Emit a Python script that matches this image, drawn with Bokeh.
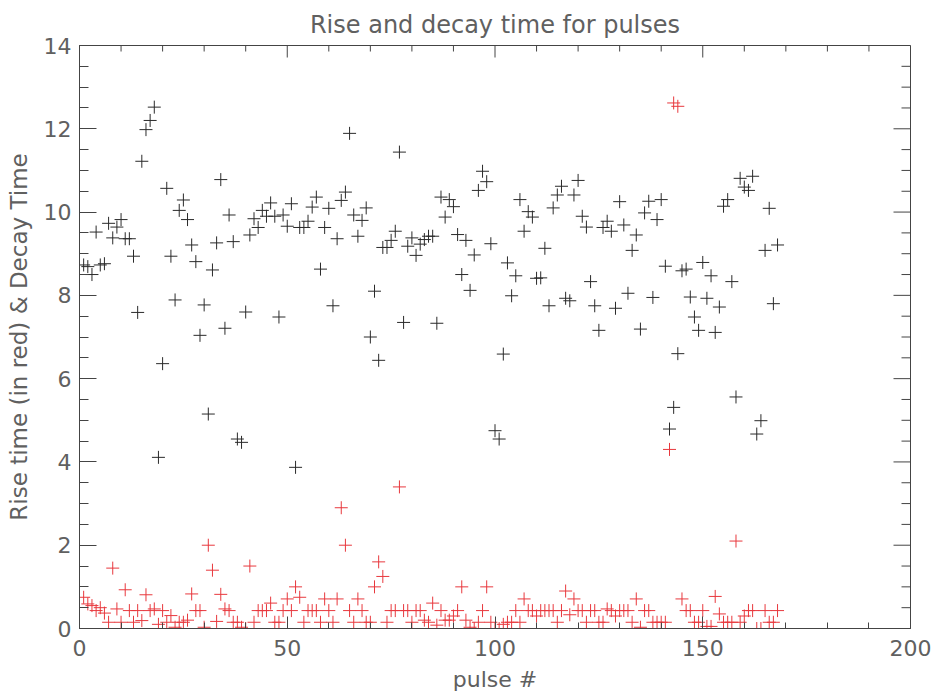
import math
from bokeh.plotting import figure
from bokeh.models import Range1d, SingleIntervalTicker, ColumnDataSource
from bokeh.embed import file_html
from bokeh.resources import INLINE

pulse = list(range(1, 169))

decay = [8.73, 8.69, 8.5, 9.52, 8.73, 8.76, 9.73, 9.38, 9.64, 9.82,
         9.36, 9.36, 8.94, 7.59, 11.22, 11.98, 12.2, 12.52, 4.11, 6.36,
         10.57, 8.94, 7.89, 10.04, 10.29, 9.82, 9.21, 8.81, 7.04, 7.77,
         5.15, 8.61, 9.26, 10.78, 7.21, 9.93, 9.29, 4.55, 4.47, 7.6,
         9.45, 9.84, 9.63, 10.04, 9.9, 10.22, 9.9, 7.48, 9.93, 9.66,
         10.2, 3.87, 9.63, 9.63, 9.78, 10.12, 10.36, 8.63, 9.63, 10.09,
         7.75, 9.36, 10.28, 10.48, 11.89, 9.93, 9.42, 9.8, 10.1, 7.0,
         8.1, 6.44, 9.15, 9.15, 9.32, 9.54, 11.44, 7.35, 9.18, 9.38,
         8.96, 9.23, 9.34, 9.42, 9.42, 7.33, 10.36, 9.88, 10.3, 10.13,
         9.46, 8.5, 9.32, 8.12, 8.97, 10.52, 10.98, 10.73, 9.24, 4.75,
         4.55, 6.59, 8.78, 7.99, 8.47, 10.3, 9.54, 10.01, 9.88, 8.41,
         8.42, 9.13, 7.75, 10.1, 10.41, 10.62, 7.93, 7.87, 10.41, 10.76,
         9.9, 9.64, 8.33, 7.75, 7.16, 9.63, 9.78, 9.54, 7.69, 10.25,
         9.69, 8.05, 9.08, 9.45, 7.19, 9.98, 10.26, 7.95, 9.82, 10.3,
         8.7, 4.79, 5.31, 6.6, 8.59, 8.63, 7.96, 7.48, 7.16, 8.79,
         7.93, 8.47, 7.11, 7.72, 10.14, 10.3, 8.33, 5.56, 10.81, 10.6,
         10.52, 10.86, 4.67, 4.99, 9.08, 10.09, 7.8, 9.21]

rise = [0.75, 0.59, 0.55, 0.43, 0.5, 0.37, 0.15, 1.45, 0.47, 0.15,
        0.93, 0.43, 0.15, 0.43, 0.19, 0.81, 0.43, 0.47, 0.1, 0.43,
        0.15, 0.31, 0.03, 0.15, 0.15, 0.2, 0.83, 0.43, 0.43, 0.03,
        2.0, 1.4, 0.17, 0.82, 0.47, 0.43, 0.15, 0.15, 0.03, 0.0,
        1.5, 0.15, 0.43, 0.43, 0.43, 0.61, 0.15, 0.15, 0.43, 0.71,
        0.43, 1.0, 0.75, 0.15, 0.43, 0.43, 0.43, 0.15, 0.71, 0.43,
        0.15, 0.71, 2.9, 2.0, 0.43, 0.15, 0.71, 0.43, 0.15, 0.15,
        1.0, 1.6, 1.25, 0.15, 0.43, 0.43, 3.4, 0.43, 0.43, 0.15,
        0.43, 0.43, 0.2, 0.15, 0.61, 0.08, 0.43, 0.2, 0.2, 0.3,
        0.43, 1.0, 0.2, 0.03, 0.0, 0.15, 0.43, 1.0, 0.15, 0.0,
        0.0, 0.1, 0.15, 0.15, 0.43, 0.15, 0.71, 0.43, 0.43, 0.3,
        0.43, 0.43, 0.43, 0.43, 0.15, 0.43, 0.9, 0.33, 0.71, 0.43,
        0.43, 0.15, 0.43, 0.43, 0.15, 0.15, 0.47, 0.43, 0.3, 0.43,
        0.43, 0.43, 0.15, 0.71, 0.03, 0.43, 0.43, 0.15, 0.15, 0.15,
        0.15, 4.3, 12.62, 12.54, 0.71, 0.43, 0.43, 0.15, 0.15, 0.43,
        0.05, 0.05, 0.77, 0.35, 0.15, 0.15, 0.15, 2.1, 0.15, 0.3,
        0.43, 0.43, 0.0, 0.0, 0.43, 0.15, 0.15, 0.43]

x_major = [0, 50, 100, 150, 200]
x_minor = [v for v in range(0, 201, 10) if v % 50 != 0]
y_major = [0, 2, 4, 6, 8, 10, 12, 14]
y_minor = [v / 2 for v in range(0, 29) if v % 4 != 0]

TEXT = "#606060"
AXIS = "#444444"
FONT = "DejaVu Sans"

p = figure(width=932, height=697, output_backend="svg", toolbar_location=None,
           x_range=Range1d(0, 200), y_range=Range1d(0, 14),
           min_border_left=79, min_border_right=22, min_border_top=45,
           min_border_bottom=69, background_fill_color="white",
           border_fill_color="white")
p.grid.visible = False
p.outline_line_color = AXIS

p.title.text = "Rise and decay time for pulses"
p.title.align = "center"
p.title.text_font = FONT
p.title.text_font_style = "normal"
p.title.text_font_size = "24px"
p.title.text_color = TEXT
p.title.standoff = 13

xa = p.xaxis[0]
ya = p.yaxis[0]
xa.ticker = SingleIntervalTicker(interval=50, num_minor_ticks=5)
ya.ticker = SingleIntervalTicker(interval=2, num_minor_ticks=4)
xa.axis_label = "pulse #"
ya.axis_label = "Rise time (in red) & Decay Time"

for ax, mj, mn in ((xa, 12, 6), (ya, 17, 9)):
    ax.axis_line_color = AXIS
    ax.major_tick_line_color = AXIS
    ax.minor_tick_line_color = AXIS
    ax.major_tick_in = mj
    ax.major_tick_out = 0
    ax.minor_tick_in = mn
    ax.minor_tick_out = 0
    ax.major_label_text_font = FONT
    ax.major_label_text_font_size = "22px"
    ax.major_label_text_color = TEXT
    ax.axis_label_text_font = FONT
    ax.axis_label_text_font_style = "normal"
    ax.axis_label_text_color = TEXT

xa.axis_label_text_font_size = "22px"
ya.axis_label_text_font_size = "23px"
xa.major_label_standoff = 11
ya.major_label_standoff = 8
xa.axis_label_standoff = 8
ya.axis_label_standoff = 9

# inward ticks along the top and right frame edges
p.ray(x=x_major, y=[14] * len(x_major), length=12, length_units="screen",
      angle=-math.pi / 2, line_color=AXIS, line_width=1)
p.ray(x=x_minor, y=[14] * len(x_minor), length=6, length_units="screen",
      angle=-math.pi / 2, line_color=AXIS, line_width=1)
p.ray(x=[200] * len(y_major), y=y_major, length=17, length_units="screen",
      angle=math.pi, line_color=AXIS, line_width=1)
p.ray(x=[200] * len(y_minor), y=y_minor, length=9, length_units="screen",
      angle=math.pi, line_color=AXIS, line_width=1)

src = ColumnDataSource(dict(pulse=pulse, decay=decay, rise=rise))
p.scatter("pulse", "decay", source=src, marker="cross", size=13,
          line_color="#2a2a2a", line_width=1)
p.scatter("pulse", "rise", source=src, marker="cross", size=13,
          line_color="#e8383d", line_width=1)

open("out.html", "w").write(file_html(p, INLINE))
